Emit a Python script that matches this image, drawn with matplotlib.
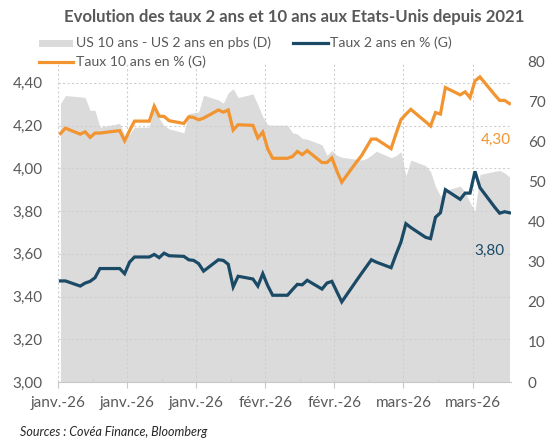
import matplotlib
matplotlib.use("Agg")
import matplotlib.pyplot as plt
import matplotlib.dates as mdates
import pandas as pd
from matplotlib.lines import Line2D
from matplotlib.patches import Rectangle

plt.rcParams['font.family'] = ['Lato', 'DejaVu Sans']

# jours ouvrés du 1er janvier au 2 avril 2026
dates = pd.bdate_range("2026-01-01", "2026-04-02")

taux_10 = [4.163, 4.188, 4.160, 4.171, 4.145, 4.165, 4.165, 4.174, 4.176, 4.129,
           4.176, 4.221, 4.221, 4.291, 4.244, 4.243, 4.223, 4.210, 4.241, 4.238,
           4.227, 4.235, 4.273, 4.263, 4.273, 4.179, 4.204, 4.201, 4.142, 4.170,
           4.091, 4.047, 4.047, 4.055, 4.079, 4.064, 4.083, 4.027, 4.027, 4.049,
           3.988, 3.935, 4.030, 4.059, 4.098, 4.137, 4.137, 4.092, 4.162, 4.228,
           4.253, 4.276, 4.218, 4.198, 4.261, 4.254, 4.378, 4.344, 4.358, 4.331,
           4.409, 4.428, 4.344, 4.318, 4.318, 4.303]

taux_2 = [3.473, 3.473, 3.449, 3.463, 3.471, 3.488, 3.531, 3.531, 3.531, 3.507,
          3.561, 3.585, 3.585, 3.597, 3.582, 3.603, 3.591, 3.588, 3.572, 3.569,
          3.554, 3.519, 3.572, 3.569, 3.551, 3.445, 3.495, 3.482, 3.449, 3.507,
          3.451, 3.406, 3.406, 3.432, 3.457, 3.455, 3.476, 3.435, 3.463, 3.471,
          3.423, 3.375, 3.475, 3.508, 3.540, 3.572, 3.561, 3.535, 3.597, 3.655,
          3.741, 3.723, 3.677, 3.671, 3.771, 3.792, 3.900, 3.855, 3.884, 3.884,
          3.986, 3.910, 3.818, 3.790, 3.797, 3.792]

spread = [69.5, 71.5, 71.2, 71.0, 67.8, 67.8, 63.6, 64.3, 64.6, 61.5,
          61.8, 63.6, 63.6, 69.3, 65.8, 64.0, 63.2, 62.2, 67.0, 67.2,
          67.4, 71.6, 70.4, 69.6, 72.2, 73.2, 71.0, 71.9, 69.2, 66.2,
          64.2, 64.1, 64.1, 62.2, 61.9, 60.8, 60.6, 59.2, 56.6, 57.8,
          56.6, 56.1, 55.6, 55.4, 55.8, 56.6, 57.6, 56.0, 56.5, 57.5,
          51.5, 55.4, 54.0, 52.5, 48.8, 46.4, 47.8, 48.9, 47.4, 44.8,
          42.6, 51.8, 52.6, 52.8, 52.2, 51.2]

tick_dates = ["2026-01-01", "2026-01-15", "2026-01-29", "2026-02-12",
              "2026-02-26", "2026-03-12", "2026-03-26"]
tick_labels = ["janv.-26", "janv.-26", "janv.-26", "févr.-26",
               "févr.-26", "mars-26", "mars-26"]
left_ticks = [3.0, 3.2, 3.4, 3.6, 3.8, 4.0, 4.2, 4.4]
right_ticks = [0, 10, 20, 30, 40, 50, 60, 70, 80]

c_orange = '#F2942F'
c_blue = '#1B4A66'
c_area = '#DBDBDB'
c_text = '#595959'

W, H = 554, 438
fig = plt.figure(figsize=(W / 100, H / 100), dpi=100)
ax = fig.add_axes([58 / W, 1 - 382 / H, 453 / W, 320.5 / H])
ax2 = ax.twinx()
ax.set_zorder(ax2.get_zorder() + 1)
ax.patch.set_visible(False)

x = mdates.date2num(dates) + 0.5
x0 = mdates.date2num(pd.Timestamp("2026-01-01"))

ax2.fill_between(x, spread, 0, color=c_area, lw=0)
ax.plot(x, taux_2, color=c_blue, lw=2.3, solid_joinstyle='miter')
ax.plot(x, taux_10, color=c_orange, lw=2.3, solid_joinstyle='miter')

ax.set_xlim(x0, x0 + 91.8)
ax.set_ylim(3.0, 4.5)
ax2.set_ylim(0, 80)

ticks = mdates.date2num(pd.to_datetime(tick_dates))
ax.set_xticks(ticks)
ax.set_xticklabels(tick_labels)
ax.set_xticks(ticks[:-1] + 7, minor=True)
ax.set_yticks(left_ticks)
ax.set_yticklabels([f"{v:.2f}".replace('.', ',') for v in left_ticks])
ax2.set_yticks(right_ticks)

ax.grid(True, which='major', color='#CFCFCF', linestyle=(0, (2, 2)), lw=0.8)
for a in (ax, ax2):
    for s in ('top', 'left', 'right'):
        a.spines[s].set_visible(False)
    a.spines['bottom'].set_color('#C8C8C8')
ax2.spines['bottom'].set_visible(False)

ax.tick_params(axis='x', which='major', length=4, color='#C8C8C8',
               labelsize=11, labelcolor=c_text, pad=6)
ax.tick_params(axis='x', which='minor', length=2, color='#C8C8C8', direction='in')
ax.tick_params(axis='y', length=0, labelsize=11, labelcolor=c_text, pad=11)
ax2.tick_params(axis='y', length=0, labelsize=11, labelcolor=c_text, pad=12)

ax.text(x0 + 91.8, 4.133, "4,30", color=c_orange, fontsize=11,
        ha='right', va='center')
ax.text(x0 + 90.4, 3.613, "3,80", color=c_blue, fontsize=11,
        ha='right', va='center')

fig.text(294 / W, 1 - 17 / H, "Evolution des taux 2 ans et 10 ans aux Etats-Unis depuis 2021",
         ha='center', va='center', fontsize=12.1, fontweight='bold', color=c_text)

# légende
fig.add_artist(Rectangle((39 / W, 1 - 47 / H), 34 / W, 7 / H,
                         transform=fig.transFigure, color=c_area, lw=0))
fig.text(76 / W, 1 - 43 / H, "US 10 ans - US 2 ans en pbs (D)",
         va='center', fontsize=10.1, color=c_text)
fig.add_artist(Line2D([293 / W, 328 / W], [1 - 43 / H] * 2,
                      transform=fig.transFigure, color=c_blue, lw=2.3))
fig.text(330 / W, 1 - 43 / H, "Taux 2 ans en % (G)",
         va='center', fontsize=10.1, color=c_text)
fig.add_artist(Line2D([39 / W, 73 / W], [1 - 62 / H] * 2,
                      transform=fig.transFigure, color=c_orange, lw=2.3))
fig.text(76 / W, 1 - 62 / H, "Taux 10 ans en % (G)",
         va='center', fontsize=10.1, color=c_text)

fig.text(20 / W, 1 - 432 / H, "Sources : Covéa Finance, Bloomberg",
         va='center', fontsize=9, style='italic', color='#262626')

fig.savefig("out.png", dpi=100)
